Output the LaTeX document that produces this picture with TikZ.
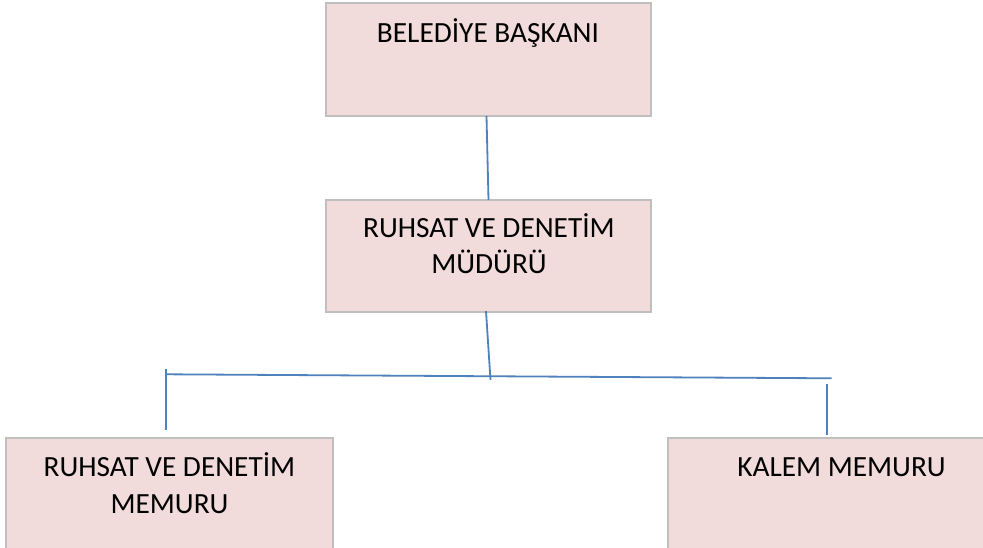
\documentclass[tikz,border=0pt]{standalone}
\usepackage{fontspec}
\setmainfont{Carlito}
\usetikzlibrary{calc}
\definecolor{boxfill}{HTML}{F2DCDB}
\definecolor{boxline}{HTML}{BFBFBF}
\definecolor{conn}{HTML}{4F81BD}
\begin{document}
\begin{tikzpicture}[x=1pt,y=-1pt,
  box/.style={draw=boxline,line width=2pt,fill=boxfill,rectangle,inner sep=0pt},
  lbl/.style={font=\fontsize{29.3}{36}\selectfont,align=center,anchor=base,inner sep=0pt},
  link/.style={draw=conn,line width=1.8pt}]
\useasboundingbox (0,0) rectangle (983,548);
\clip (0,0) rectangle (983,548);
% boxes
\node[box,minimum width=325pt,minimum height=113pt] (top) at (488.5,59.5) {};
\node[box,minimum width=325pt,minimum height=112pt] (mid) at (488.5,256) {};
\node[box,minimum width=327pt,minimum height=130pt] (left) at (169.5,503) {};
\node[box,minimum width=360pt,minimum height=130pt] (right) at (848,503) {};
% texts
\node[lbl] (ttop) at (488,43) {BELEDİYE BAŞKANI};
\node[lbl] (tmid1) at (489,238) {RUHSAT VE DENETİM};
\node[lbl] (tmid2) at (489,274) {MÜDÜRÜ};
\node[lbl] (tl1) at (169.5,476) {RUHSAT VE DENETİM};
\node[lbl] (tl2) at (169.5,513) {MEMURU};
\node[lbl] (tr) at (841.5,476) {KALEM MEMURU};
% connectors
\coordinate (hubL) at (166,374.3);
\coordinate (hubR) at (831.7,378.3);
\coordinate (hubM) at (490.5,380);
\coordinate (tickLtop) at (166,369);
\coordinate (tickLbot) at (166,430);
\coordinate (tickRtop) at (826.7,384);
\coordinate (midOut) at (486,311);
\draw[link] ($(top.south)+(-2,-1)$) -- ($(mid.north)+(0,1)$);
\draw[link] (midOut) -- (hubM);
\draw[link] (hubL) -- (hubR);
\draw[link] (tickLtop) -- (tickLbot);
\draw[link] (tickRtop) -- ($(right.north)+(-21.3,-2)$);
\end{tikzpicture}
\end{document}
